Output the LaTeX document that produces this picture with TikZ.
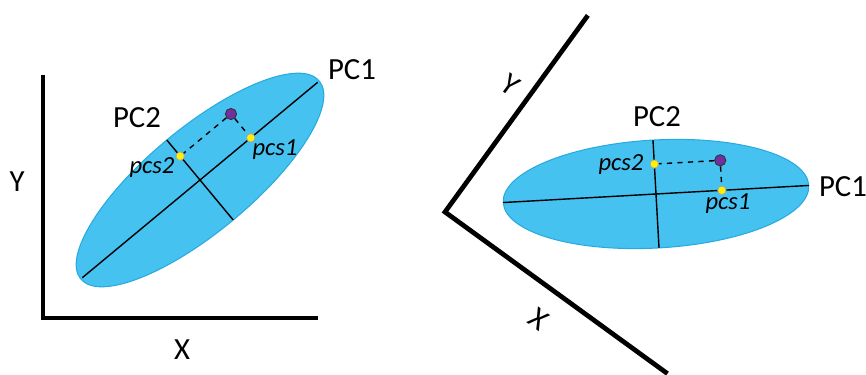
\documentclass[tikz,border=0pt]{standalone}
\usepackage{fontspec}
\setmainfont{Carlito}
\definecolor{cloud}{RGB}{69,194,240}
\definecolor{cloudedge}{RGB}{40,170,225}
\definecolor{obsviolet}{RGB}{112,48,160}
\begin{document}
\begin{tikzpicture}[x=0.02cm, y=0.02cm,
  axis/.style={line width=2.7pt, line join=miter},
  pcline/.style={line width=0.8pt},
  proj/.style={dashed, line width=0.8pt},
  obs/.style={circle, draw=black!80, line width=0.5pt, fill=obsviolet, inner sep=0pt, minimum size=6.4pt},
  score/.style={circle, draw=black!35, line width=0.4pt, fill=yellow, inner sep=0pt, minimum size=4.8pt},
  big/.style={font=\fontsize{17.5}{17.5}\selectfont},
  small/.style={font=\fontsize{14}{14}\selectfont\itshape}]
\useasboundingbox (0,0) rectangle (866,375);

% Left: original axes
\draw[axis] (43,300) -- (43,57) -- (318,57);
\node[big] (ylab1) at (17,193) {Y};
\node[big] (xlab1) at (182,25) {X};

% Left: ellipse with principal axes
\begin{scope}[shift={(200,195)}, rotate=39.7]
\fill[cloud, draw=cloudedge, line width=0.6pt] (0,0) ellipse [x radius=155, y radius=52];
\draw[pcline] (-153,0) -- (153,0);
\draw[pcline] (0,-52) -- (0,52);
\node[obs] (obs1) at (66,31) {};
\node[score] (pcsa1) at (66,0) {};
\node[score] (pcsb1) at (0,31) {};
\draw[proj] (obs1) -- (pcsa1);
\draw[proj] (obs1) -- (pcsb1);
\end{scope}
\node[big] (pc1a) at (352,305) {PC1};
\node[big] (pc2a) at (137,257) {PC2};
\node[small] (lpcs1a) at (275,225) {pcs1};
\node[small] (lpcs2a) at (152,207) {pcs2};

% Right: rotated axes
\begin{scope}[shift={(445,163)}, rotate=-36]
\draw[axis] (0,243) -- (0,0) -- (275,0);
\end{scope}
\node[big, rotate=-36] (ylab2) at (510,290) {Y};
\node[big, rotate=-36] (xlab2) at (539,56) {X};

% Right: ellipse in PC frame
\begin{scope}[shift={(656,181)}, rotate=3.2]
\fill[cloud, draw=cloudedge, line width=0.6pt] (0,0) ellipse [x radius=153, y radius=54];
\draw[pcline] (-153,0) -- (153,0);
\draw[pcline] (0,-54) -- (0,54);
\node[obs] (obs2) at (66,30) {};
\node[score] (pcsa2) at (66,0) {};
\node[score] (pcsb2) at (0,30) {};
\draw[proj] (obs2) -- (pcsa2);
\draw[proj] (obs2) -- (pcsb2);
\end{scope}
\node[big] (pc1b) at (843,188) {PC1};
\node[big] (pc2b) at (657,258) {PC2};
\node[small] (lpcs1b) at (728,171) {pcs1};
\node[small] (lpcs2b) at (621,210) {pcs2};
\end{tikzpicture}
\end{document}
